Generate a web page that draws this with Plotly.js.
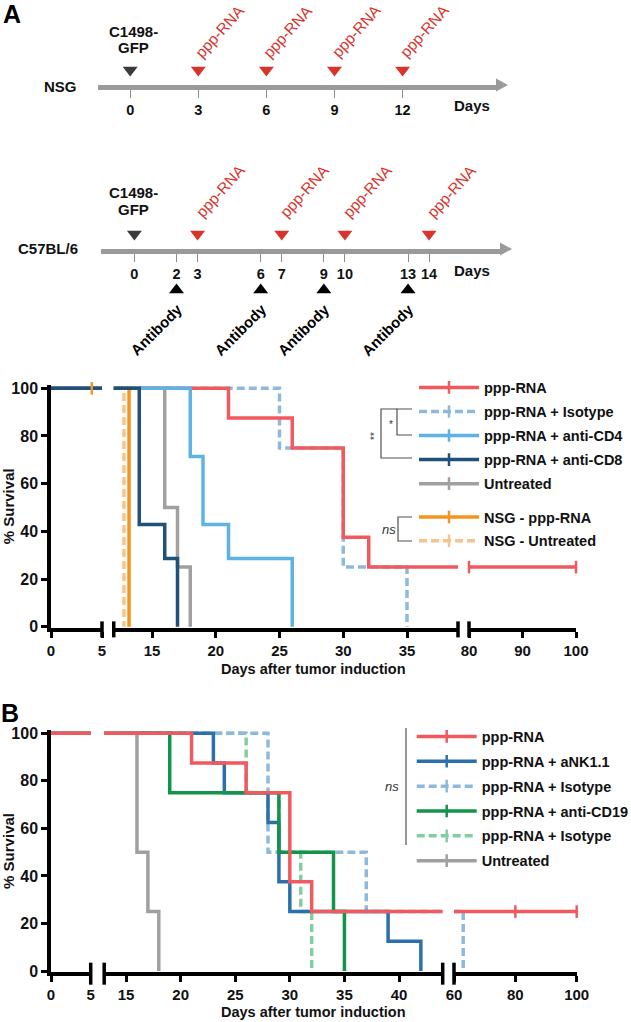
<!DOCTYPE html>
<html><head><meta charset="utf-8">
<script src="https://cdn.plot.ly/plotly-3.0.1.min.js"></script>
<style>html,body{margin:0;padding:0;background:#fff;overflow:hidden}#chart{width:660px;height:1022px}</style>
</head><body><div id="chart"></div>
<script>
// ================= DATA =================
// Timelines (days)
const nsgTickDays = [0, 3, 6, 9, 12];
const nsgTumorDays = [0];
const nsgRnaDays = [3, 6, 9, 12];
const c57TickDays = [0, 2, 3, 6, 7, 9, 10, 13, 14];
const c57TumorDays = [0];
const c57RnaDays = [3, 7, 10, 14];
const c57AbDays = [2, 6, 9, 13];

// Panel A: survival curves (days, % survival)
const aRnaDays = [0, 21, 26, 30, 32, 100];
const aRnaSurv = [100, 87.5, 75, 37.5, 25, 25];
const aRnaCensDays = [80, 100];
const aRnaCensSurv = [25, 25];
const aIsoDays = [0, 25, 30, 35];
const aIsoSurv = [100, 75, 25, 0];
const aCd4Days = [0, 18, 19, 21, 26];
const aCd4Surv = [100, 71.4, 42.9, 28.6, 0];
const aCd8Days = [0, 14, 16, 17];
const aCd8Surv = [100, 42.9, 28.6, 0];
const aUntDays = [0, 16, 17, 18];
const aUntSurv = [100, 50, 25, 0];
const aNsgRnaDays = [0, 13.2];
const aNsgRnaSurv = [100, 0];
const aNsgRnaCensDays = [4];
const aNsgRnaCensSurv = [100];
const aNsgUntDays = [0, 12.8];
const aNsgUntSurv = [100, 0];

// Panel B
const bRnaDays = [0, 21, 26, 30, 32, 100];
const bRnaSurv = [100, 87.5, 75, 37.5, 25, 25];
const bRnaCensDays = [80, 100];
const bRnaCensSurv = [25, 25];
const bNkDays = [0, 23, 24, 28, 29, 30, 39, 42];
const bNkSurv = [100, 87.5, 75, 62.5, 37.5, 25, 12.5, 0];
const bIsoNkDays = [0, 28, 37, 63];
const bIsoNkSurv = [100, 50, 25, 0];
const bCd19Days = [0, 19, 29, 34, 35];
const bCd19Surv = [100, 75, 50, 25, 0];
const bIsoCd19Days = [0, 26, 29, 31, 32];
const bIsoCd19Surv = [100, 75, 50, 25, 0];
const bUntDays = [0, 16, 17, 18];
const bUntSurv = [100, 50, 25, 0];

// Axis ticks
const survTicks = [0, 20, 40, 60, 80, 100];
const aSeg1Ticks = [0, 5], aSeg2Ticks = [15, 20, 25, 30, 35], aSeg3Ticks = [80, 90, 100];
const bSeg1Ticks = [0, 5], bSeg2Ticks = [15, 20, 25, 30, 35, 40], bSeg3Ticks = [60, 80, 100];

// ================= LAYOUT HELPERS =================
// Layout is slightly wider than the 631px window so the legends never push the margins.
const W = 660, H = 1022;
const fx = p => p / W;
const fy = p => 1 - p / H;
const FONT = 'Liberation Sans, Arial, Helvetica, sans-serif';
const RED_T = '#d8342c';

const C = {
  red: '#f05a5e', isoA: '#8dbadc', cd4: '#5cb3e4', cd8: '#1f5179', unt: '#a0a0a0',
  nsgRna: '#f7941d', nsgUnt: '#f8c38f', nk: '#2b70ad', cd19: '#12944a', isoG: '#82cea1'
};
const DASH = '8px,4px';

const traces = [];
function addSeries(days, surv, segs, yax, color, dash) {
  segs.forEach(xa => traces.push({
    x: days, y: surv, xaxis: xa, yaxis: yax, type: 'scatter', mode: 'lines',
    line: {color: color, width: 3.5, shape: 'hv', dash: dash || 'solid'},
    showlegend: false, hoverinfo: 'skip'
  }));
}
function addCensor(days, surv, segs, yax, color) {
  segs.forEach(xa => traces.push({
    x: days, y: surv, xaxis: xa, yaxis: yax, type: 'scatter', mode: 'markers', cliponaxis: false,
    marker: {symbol: 'line-ns', size: 9, line: {width: 2.5, color: color}},
    showlegend: false, hoverinfo: 'skip'
  }));
}
function addLegend(name, color, dash, legend, xa, yax) {
  traces.push({
    x: [null], y: [null], xaxis: xa, yaxis: yax, type: 'scatter', mode: 'lines+markers',
    name: name, legend: legend, legendgroup: legend + name,
    line: {color: color, width: 3.5, dash: dash || 'solid'},
    marker: {symbol: 'line-ns', size: 9, color: color, line: {width: 2.5, color: color}},
    hoverinfo: 'skip'
  });
}

// ---- Panel A curves (z-order: bottom first)
const segA = ['x', 'x2', 'x3'];
addSeries(aNsgUntDays, aNsgUntSurv, segA, 'y', C.nsgUnt, DASH);
addSeries(aNsgRnaDays, aNsgRnaSurv, segA, 'y', C.nsgRna);
addSeries(aUntDays, aUntSurv, segA, 'y', C.unt);
addSeries(aIsoDays, aIsoSurv, segA, 'y', C.isoA, DASH);
addSeries(aRnaDays, aRnaSurv, segA, 'y', C.red);
addSeries(aCd4Days, aCd4Surv, segA, 'y', C.cd4);
addSeries(aCd8Days, aCd8Surv, segA, 'y', C.cd8);
addCensor(aRnaCensDays, aRnaCensSurv, ['x3'], 'y', C.red);
addCensor(aNsgRnaCensDays, aNsgRnaCensSurv, ['x'], 'y', C.nsgRna);

addLegend('ppp-RNA', C.red, null, 'legend', 'x2', 'y');
addLegend('ppp-RNA + Isotype', C.isoA, DASH, 'legend', 'x2', 'y');
addLegend('ppp-RNA + anti-CD4', C.cd4, null, 'legend', 'x2', 'y');
addLegend('ppp-RNA + anti-CD8', C.cd8, null, 'legend', 'x2', 'y');
addLegend('Untreated', C.unt, null, 'legend', 'x2', 'y');
addLegend('NSG - ppp-RNA', C.nsgRna, null, 'legend2', 'x2', 'y');
addLegend('NSG - Untreated', C.nsgUnt, DASH, 'legend2', 'x2', 'y');

// ---- Panel B curves
const segB = ['x4', 'x5', 'x6'];
addSeries(bIsoCd19Days, bIsoCd19Surv, segB, 'y2', C.isoG, DASH);
addSeries(bIsoNkDays, bIsoNkSurv, segB, 'y2', C.isoA, DASH);
addSeries(bNkDays, bNkSurv, segB, 'y2', C.nk);
addSeries(bCd19Days, bCd19Surv, segB, 'y2', C.cd19);
addSeries(bUntDays, bUntSurv, segB, 'y2', C.unt);
addSeries(bRnaDays, bRnaSurv, segB, 'y2', C.red);
addCensor(bRnaCensDays, bRnaCensSurv, ['x6'], 'y2', C.red);

addLegend('ppp-RNA', C.red, null, 'legend3', 'x5', 'y2');
addLegend('ppp-RNA + aNK1.1', C.nk, null, 'legend3', 'x5', 'y2');
addLegend('ppp-RNA + Isotype', C.isoA, DASH, 'legend3', 'x5', 'y2');
addLegend('ppp-RNA + anti-CD19', C.cd19, null, 'legend3', 'x5', 'y2');
addLegend('ppp-RNA + Isotype ', C.isoG, DASH, 'legend3', 'x5', 'y2');
addLegend('Untreated', C.unt, null, 'legend3', 'x5', 'y2');

// ---- Timelines
const ROW = 0.5;
function tri(days, xa, ya, sym, color) {
  traces.push({
    x: days, y: days.map(() => ROW), xaxis: xa, yaxis: ya, type: 'scatter', mode: 'markers',
    cliponaxis: false, marker: {symbol: sym, size: 13, color: color, line: {width: 0}},
    showlegend: false, hoverinfo: 'skip'
  });
}
tri(nsgTumorDays, 'x7', 'y3', 'triangle-down', '#3b3b3b');
tri(nsgRnaDays, 'x7', 'y3', 'triangle-down', RED_T);
tri(c57TumorDays, 'x8', 'y4', 'triangle-down', '#3b3b3b');
tri(c57RnaDays, 'x8', 'y4', 'triangle-down', RED_T);
tri(c57AbDays, 'x8', 'y5', 'triangle-up', '#000');

// ================= AXES =================
const tickF = {family: FONT, size: 15, color: '#111', weight: 'bold'};
function xax(dom, range, ticks, anchor) {
  return {domain: [fx(dom[0]), fx(dom[1])], range: range, anchor: anchor, tickmode: 'array',
    tickvals: ticks, ticktext: ticks.map(String), showline: true, linecolor: '#000', linewidth: 3.5,
    ticks: 'outside', ticklen: 6, tickwidth: 3, tickcolor: '#000', tickfont: tickF,
    showgrid: false, zeroline: false, fixedrange: true};
}
function yax(top, bottom, anchor) {
  const pxPer = (bottom - top) / 100;
  return {domain: [fy(bottom + 0.5 * pxPer), fy(top - 1.5 * pxPer)], range: [-0.5, 101.5], anchor: anchor,
    tickmode: 'array', tickvals: survTicks, ticktext: survTicks.map(String),
    showline: true, linecolor: '#000', linewidth: 3.5, ticks: 'outside', ticklen: 6, tickwidth: 3,
    tickcolor: '#000', tickfont: {family: FONT, size: 16, color: '#111', weight: 'bold'},
    showgrid: false, zeroline: false, fixedrange: true,
    title: {text: '% Survival', font: {family: FONT, size: 15, color: '#111', weight: 'bold'}, standoff: 2}};
}
function tlx(dom, zeroPx, pxPerDay, ticks, anchor) {
  return {domain: [fx(dom[0]), fx(dom[1])],
    range: [(dom[0] - zeroPx) / pxPerDay, (dom[1] - zeroPx) / pxPerDay], anchor: anchor,
    tickmode: 'array', tickvals: ticks, ticktext: ticks.map(String),
    showline: true, linecolor: '#9a9a9a', linewidth: 5, ticks: 'outside', ticklen: 8, tickwidth: 1.2,
    tickcolor: '#8a8a8a', tickfont: {family: FONT, size: 14.5, color: '#111', weight: 'bold'},
    showgrid: false, zeroline: false, fixedrange: true};
}
function tly(top, bottom) {
  return {domain: [fy(bottom), fy(top)], range: [0, 1], visible: false, fixedrange: true};
}

// ================= SHAPES / ANNOTATIONS =================
const shapes = [];
const ann = [];
function brk(xref, xv, yc, half) {
  shapes.push({type: 'line', xref: xref, x0: xv, x1: xv, yref: 'paper', y0: fy(yc - half), y1: fy(yc + half),
    line: {color: '#000', width: 3.5}});
}
const aAxisY = 626.7 + 0.5 * 2.384 + 1.5, bAxisY = 971 + 0.5 * 2.377 + 1.5;
brk('x domain', 1, aAxisY, 8); brk('x2 domain', 0, aAxisY, 8); brk('x2 domain', 1, aAxisY, 8); brk('x3 domain', 0, aAxisY, 8);
brk('x4 domain', 1, bAxisY, 11); brk('x5 domain', 0, bAxisY, 11); brk('x5 domain', 1, bAxisY, 11); brk('x6 domain', 0, bAxisY, 11);

function pth(pts) {
  let d = '';
  pts.forEach(p => { d += p[0] + fx(p[1]) + ',' + fy(p[2]) + ' '; });
  return d;
}
const brCol = '#505050';
shapes.push({type: 'path', xref: 'paper', yref: 'paper', path: pth([['M', 412, 409], ['L', 397, 409], ['L', 397, 435], ['L', 412, 435]]), line: {color: brCol, width: 1.2}});
shapes.push({type: 'path', xref: 'paper', yref: 'paper', path: pth([['M', 397, 409], ['L', 381, 409], ['L', 381, 458], ['L', 412, 458]]), line: {color: brCol, width: 1.2}});
shapes.push({type: 'path', xref: 'paper', yref: 'paper', path: pth([['M', 412, 517], ['L', 398, 517], ['L', 398, 541], ['L', 412, 541]]), line: {color: brCol, width: 1.2}});
shapes.push({type: 'line', xref: 'paper', yref: 'paper', x0: fx(406), x1: fx(406), y0: fy(728), y1: fy(845), line: {color: brCol, width: 1.2}});

// arrow heads of the timelines
shapes.push({type: 'path', xref: 'paper', yref: 'paper', path: pth([['M', 496, 78.5], ['L', 508, 85], ['L', 496, 91.5]]) + 'Z', fillcolor: '#9a9a9a', line: {width: 0}});
shapes.push({type: 'path', xref: 'paper', yref: 'paper', path: pth([['M', 500, 242.5], ['L', 512, 249], ['L', 500, 255.5]]) + 'Z', fillcolor: '#9a9a9a', line: {width: 0}});

function txt(t, x, y, o) {
  ann.push(Object.assign({text: t, x: fx(x), y: fy(y), xref: 'paper', yref: 'paper', showarrow: false,
    font: {family: FONT, size: 15, color: '#111', weight: 'bold'}, xanchor: 'center', yanchor: 'middle'}, o || {}));
}
txt('A', 12, 14, {font: {family: FONT, size: 25, color: '#000', weight: 'bold'}});
txt('B', 10, 713, {font: {family: FONT, size: 25, color: '#000', weight: 'bold'}});
txt('C1498-', 133, 31); txt('GFP', 133, 47);
txt('NSG', 60, 86);
txt('Days', 472, 106);
txt('C1498-', 133, 193); txt('GFP', 133, 210);
txt('C57BL/6', 48, 248);
txt('Days', 472, 270);
nsgRnaDays.forEach(d => ann.push({text: 'ppp-RNA', x: d, xref: 'x7', xshift: 21, y: fy(31), yref: 'paper',
  xanchor: 'center', yanchor: 'middle',
  showarrow: false, textangle: -48, font: {family: FONT, size: 15.5, color: RED_T}}));
c57RnaDays.forEach(d => ann.push({text: 'ppp-RNA', x: d, xref: 'x8', xshift: 22, y: fy(191), yref: 'paper',
  xanchor: 'center', yanchor: 'middle',
  showarrow: false, textangle: -48, font: {family: FONT, size: 15.5, color: RED_T}}));
c57AbDays.forEach(d => ann.push({text: 'Antibody', x: d, xref: 'x8', xshift: -20, y: fy(330), yref: 'paper',
  xanchor: 'center', yanchor: 'middle',
  showarrow: false, textangle: -45, font: {family: FONT, size: 15, color: '#000', weight: 'bold'}}));
txt('Days after tumor induction', 313, 669, {font: {family: FONT, size: 14.5, color: '#111', weight: 'bold'}});
txt('Days after tumor induction', 313, 1012, {font: {family: FONT, size: 14.5, color: '#111', weight: 'bold'}});
const smallF = {family: FONT, size: 10, color: '#333'};
txt('*', 391, 424, {font: smallF});
txt('**', 374, 436, {font: smallF, textangle: -90});
txt('<i>ns</i>', 389, 529, {font: {family: FONT, size: 13, color: '#333'}});
txt('<i>ns</i>', 392, 786, {font: {family: FONT, size: 13, color: '#333'}});

const legF = {family: FONT, size: 14.5, color: '#111', weight: 'bold'};
function leg(left, top, gap) {
  return {x: fx(left), xanchor: 'left', y: fy(top), yanchor: 'top', bgcolor: 'rgba(0,0,0,0)',
    borderwidth: 0, font: legF, itemwidth: 60, tracegroupgap: gap, traceorder: 'grouped',
    itemclick: false, itemdoubleclick: false};
}

const layout = {
  width: W, height: H, margin: {l: 0, r: 0, t: 0, b: 0}, paper_bgcolor: '#fff', plot_bgcolor: 'rgba(0,0,0,0)',
  showlegend: true, font: {family: FONT},
  xaxis: xax([51, 102], [0, 5], aSeg1Ticks, 'y'),
  xaxis2: xax([113.75, 458], [12, 39], aSeg2Ticks, 'y'),
  xaxis3: xax([469, 576], [80, 100], aSeg3Ticks, 'y'),
  yaxis: yax(388.3, 626.7, 'x'),
  xaxis4: xax([51, 90.7], [0, 5], bSeg1Ticks, 'y2'),
  xaxis5: xax([104.2, 442.7], [13, 44], bSeg2Ticks, 'y2'),
  xaxis6: xax([454, 576.7], [60, 100], bSeg3Ticks, 'y2'),
  yaxis2: yax(733.3, 971, 'x4'),
  xaxis7: tlx([97.6, 496], 130.2, 22.7, nsgTickDays, 'y3'),
  yaxis3: tly(55, 85),
  xaxis8: tlx([101, 500], 134.4, 21.05, c57TickDays, 'y4'),
  yaxis4: tly(219, 249),
  yaxis5: tly(275, 305),
  legend: leg(414, 371.5, 2.2),
  legend2: leg(414, 501, 2),
  legend3: leg(411.7, 720.5, 3),
  shapes: shapes, annotations: ann
};

Plotly.newPlot('chart', traces, layout, {displayModeBar: false, responsive: false});
</script></body></html>
